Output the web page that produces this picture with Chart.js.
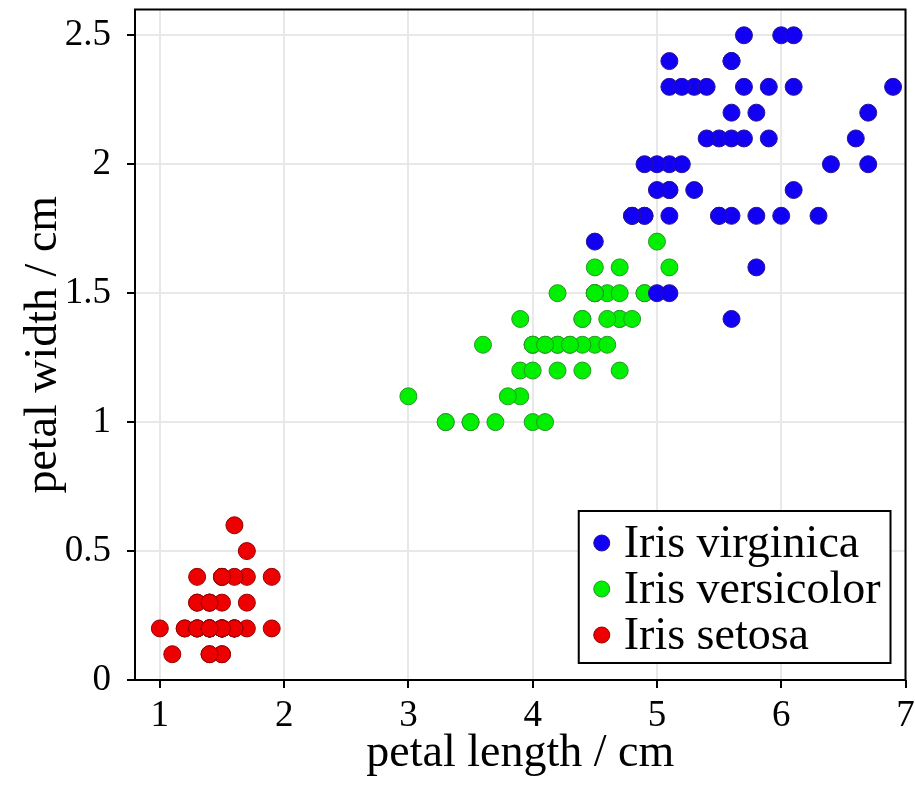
<!DOCTYPE html>
<html>
<head>
<meta charset="utf-8">
<script src="https://cdn.jsdelivr.net/npm/chart.js@4.4.1/dist/chart.umd.min.js"></script>
<style>
  html, body { margin: 0; padding: 0; background: #fff; }
  #wrap { width: 915px; height: 786px; position: relative; }
</style>
</head>
<body>
<div id="wrap"><canvas id="irisChart"></canvas></div>
<script>
const virginicaLength = [6.0, 5.1, 5.9, 5.6, 5.8, 6.6, 4.5, 6.3, 5.8, 6.1, 5.1, 5.3, 5.5, 5.0, 5.1, 5.3, 5.5, 6.7, 6.9, 5.0,
                         5.7, 4.9, 6.7, 4.9, 5.7, 6.0, 4.8, 4.9, 5.6, 5.8, 6.1, 6.4, 5.6, 5.1, 5.6, 6.1, 5.6, 5.5, 4.8, 5.4,
                         5.6, 5.1, 5.1, 5.9, 5.7, 5.2, 5.0, 5.2, 5.4, 5.1];
const virginicaWidth  = [2.5, 1.9, 2.1, 1.8, 2.2, 2.1, 1.7, 1.8, 1.8, 2.5, 2.0, 1.9, 2.1, 2.0, 2.4, 2.3, 1.8, 2.2, 2.3, 1.5,
                         2.3, 2.0, 2.0, 1.8, 2.1, 1.8, 1.8, 1.8, 2.1, 1.6, 1.9, 2.0, 2.2, 1.5, 1.4, 2.3, 2.4, 1.8, 1.8, 2.1,
                         2.4, 2.3, 1.9, 2.3, 2.5, 2.3, 1.9, 2.0, 2.3, 1.8];

const versicolorLength = [4.7, 4.5, 4.9, 4.0, 4.6, 4.5, 4.7, 3.3, 4.6, 3.9, 3.5, 4.2, 4.0, 4.7, 3.6, 4.4, 4.5, 4.1, 4.5, 3.9,
                          4.8, 4.0, 4.9, 4.7, 4.3, 4.4, 4.8, 5.0, 4.5, 3.5, 3.8, 3.7, 3.9, 5.1, 4.5, 4.5, 4.7, 4.4, 4.1, 4.0,
                          4.4, 4.6, 4.0, 3.3, 4.2, 4.2, 4.2, 4.3, 3.0, 4.1];
const versicolorWidth  = [1.4, 1.5, 1.5, 1.3, 1.5, 1.3, 1.6, 1.0, 1.3, 1.4, 1.0, 1.5, 1.0, 1.4, 1.3, 1.4, 1.5, 1.0, 1.5, 1.1,
                          1.8, 1.3, 1.5, 1.2, 1.3, 1.4, 1.4, 1.7, 1.5, 1.0, 1.1, 1.0, 1.2, 1.6, 1.5, 1.6, 1.5, 1.3, 1.3, 1.3,
                          1.2, 1.4, 1.2, 1.0, 1.3, 1.2, 1.3, 1.3, 1.1, 1.3];

const setosaLength = [1.4, 1.4, 1.3, 1.5, 1.4, 1.7, 1.4, 1.5, 1.4, 1.5, 1.5, 1.6, 1.4, 1.1, 1.2, 1.5, 1.3, 1.4, 1.7, 1.5,
                      1.7, 1.5, 1.0, 1.7, 1.9, 1.6, 1.6, 1.5, 1.4, 1.6, 1.6, 1.5, 1.5, 1.4, 1.5, 1.2, 1.3, 1.4, 1.3, 1.5,
                      1.3, 1.3, 1.3, 1.6, 1.9, 1.4, 1.6, 1.4, 1.5, 1.4];
const setosaWidth  = [0.2, 0.2, 0.2, 0.2, 0.2, 0.4, 0.3, 0.2, 0.2, 0.1, 0.2, 0.2, 0.1, 0.1, 0.2, 0.4, 0.4, 0.3, 0.3, 0.3,
                      0.2, 0.4, 0.2, 0.5, 0.2, 0.2, 0.4, 0.2, 0.2, 0.2, 0.2, 0.4, 0.1, 0.2, 0.2, 0.2, 0.2, 0.1, 0.2, 0.2,
                      0.3, 0.3, 0.2, 0.6, 0.4, 0.3, 0.2, 0.2, 0.2, 0.2];

const speciesNames = ['Iris virginica', 'Iris versicolor', 'Iris setosa'];
const xTickValues = [1, 2, 3, 4, 5, 6, 7];
const yTickValues = [0, 0.5, 1, 1.5, 2, 2.5];

const SERIF = "'Liberation Serif', 'Times New Roman', serif";

const toPoints = (xs, ys) => xs.map((x, i) => ({ x, y: ys[i] }));

// labels may hang over the plot edges, don't let them shrink the chart area
const noLabelPadding = (s) => {
  s.paddingTop = 0; s.paddingBottom = 0; s.paddingLeft = 0; s.paddingRight = 0;
};

// frame round the plot + legend box in the lower right corner
const frameAndLegend = {
  id: 'frameAndLegend',
  afterDraw(chart) {
    const { ctx, chartArea: ca } = chart;
    ctx.save();
    ctx.strokeStyle = '#000';
    ctx.lineWidth = 2;
    ctx.strokeRect(ca.left, ca.top, ca.right - ca.left, ca.bottom - ca.top);

    ctx.font = '46px ' + SERIF;
    const sets = chart.data.datasets;
    const textW = Math.max(...sets.map(d => ctx.measureText(d.label).width));
    const rowH = 46;
    const boxW = 45 + textW + 10;
    const boxH = rowH * sets.length + 14;
    const right = ca.right - 15;
    const bottom = ca.bottom - 17;
    const left = right - boxW;
    const top = bottom - boxH;

    ctx.fillStyle = '#fff';
    ctx.fillRect(left, top, boxW, boxH);
    ctx.strokeRect(left, top, boxW, boxH);

    sets.forEach((d, i) => {
      const base = top + rowH * (i + 1);
      ctx.beginPath();
      ctx.arc(left + 23, base - 14, 8, 0, Math.PI * 2);
      ctx.fillStyle = d.backgroundColor;
      ctx.fill();
      ctx.lineWidth = 1;
      ctx.strokeStyle = d.borderColor;
      ctx.stroke();
      ctx.fillStyle = '#000';
      ctx.textBaseline = 'alphabetic';
      ctx.textAlign = 'left';
      ctx.fillText(d.label, left + 45, base);
    });
    ctx.restore();
  }
};

new Chart(document.getElementById('irisChart'), {
  type: 'scatter',
  data: {
    datasets: [
      {
        label: speciesNames[0],
        data: toPoints(virginicaLength, virginicaWidth),
        backgroundColor: 'rgb(18,0,245)',
        borderColor: 'rgb(40,20,150)',
      },
      {
        label: speciesNames[1],
        data: toPoints(versicolorLength, versicolorWidth),
        backgroundColor: 'rgb(0,240,0)',
        borderColor: 'rgb(40,150,40)',
      },
      {
        label: speciesNames[2],
        data: toPoints(setosaLength, setosaWidth),
        backgroundColor: 'rgb(238,0,0)',
        borderColor: 'rgb(150,0,0)',
      },
    ],
  },
  options: {
    responsive: true,
    maintainAspectRatio: false,
    animation: false,
    elements: { point: { radius: 8.5, borderWidth: 1, hoverRadius: 8.5 } },
    layout: { padding: { top: 9, right: 8, left: 0, bottom: 0 } },
    plugins: {
      legend: { display: false },
      tooltip: { enabled: false },
    },
    scales: {
      x: {
        type: 'linear',
        min: 0.8,
        max: 7,
        afterBuildTicks: (s) => { s.ticks = xTickValues.map(v => ({ value: v })); },
        afterFit: (s) => { s.height = 106; noLabelPadding(s); },
        border: { display: false },
        grid: { color: '#e8e8e8', lineWidth: 2, tickColor: '#000', tickWidth: 2, tickLength: 8 },
        ticks: {
          color: '#000',
          padding: 10,
          maxRotation: 0,
          font: { family: SERIF, size: 37, lineHeight: 1 },
        },
        title: {
          display: true,
          text: 'petal length / cm',
          color: '#000',
          padding: { top: 0, bottom: 9 },
          font: { family: SERIF, size: 46, lineHeight: 1 },
        },
      },
      y: {
        type: 'linear',
        min: 0,
        max: 2.6,
        afterBuildTicks: (s) => { s.ticks = yTickValues.map(v => ({ value: v })); },
        afterFit: (s) => { s.width = 135; noLabelPadding(s); },
        border: { display: false },
        grid: { color: '#e8e8e8', lineWidth: 2, tickColor: '#000', tickWidth: 2, tickLength: 8 },
        ticks: {
          color: '#000',
          padding: 16,
          font: { family: SERIF, size: 37, lineHeight: 1 },
          callback: (v) => String(v),
        },
        title: {
          display: true,
          text: 'petal width / cm',
          color: '#000',
          padding: { top: 21, bottom: 0 },
          font: { family: SERIF, size: 46, lineHeight: 1 },
        },
      },
    },
  },
  plugins: [frameAndLegend],
});
</script>
</body>
</html>
